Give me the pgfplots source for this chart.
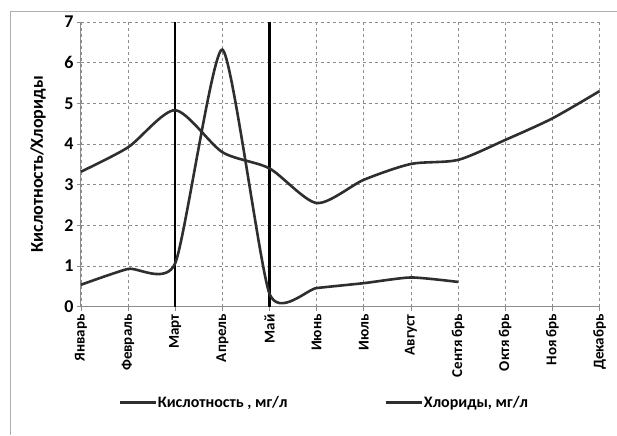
\documentclass[border=0pt]{standalone}
\usepackage{fontspec}
\setmainfont{Carlito}
\usepackage{pgfplots}
\pgfplotsset{compat=1.18}
\definecolor{curve}{HTML}{2E2E2E}
\definecolor{axgray}{HTML}{8C8C8C}
\begin{document}
\begin{tikzpicture}
\begin{axis}[
  at={(0,0)}, anchor=south west,
  scale only axis, width=519pt, height=285pt,
  xmin=0, xmax=11, ymin=0, ymax=7,
  xtick={0,...,11},
  xticklabels={Январь,Февраль,Март,Апрель,Май,Июнь,Июль,Август,Сентя\,брь,Октя\,брь,Ноя\,брь,Декабрь},
  x tick label style={rotate=90, anchor=east, font=\bfseries\fontsize{15}{15}\selectfont},
  ytick={0,...,7},
  y tick label style={font=\bfseries\fontsize{18}{18}\selectfont},
  /pgf/number format/assume math mode=true,
  ylabel={Кислотность/Хлориды},
  ylabel style={font=\bfseries\fontsize{18}{18}\selectfont, at={(axis description cs:-0.083,0.5)}, anchor=center},
  axis lines=left,
  axis line style={-, axgray, line width=1pt},
  tick align=outside,
  major tick length=4pt,
  tick style={axgray, line width=0.8pt},
  grid=major,
  major grid style={axgray, line width=0.8pt, dash pattern=on 3pt off 3pt},
  clip=false,
  legend columns=2,
  legend style={at={(0.468,-0.337)}, anchor=center, draw=none, fill=none,
    font=\bfseries\fontsize{16}{16}\selectfont, inner sep=0pt,
    /tikz/every even column/.append style={column sep=96pt},
    nodes={inner sep=1pt}},
  legend image code/.code={\draw[#1] (0pt,0pt) -- (36pt,0pt);},
]
% vertical markers
\addplot[black, line width=2.2pt, forget plot] coordinates {(2,0) (2,7)};
\addplot[black, line width=2.2pt, forget plot] coordinates {(4,0) (4,7)};
% series
\addplot[curve, line width=2.6pt, smooth, tension=0.36] coordinates {
  (0,0.54) (1,0.93) (2,1.07) (3,6.32) (4,0.32) (5,0.46) (6,0.58) (7,0.72) (8,0.61)};
\addlegendentry{Кислотность , мг/л}
\addplot[curve, line width=2.6pt, smooth, tension=0.45] coordinates {
  (0,3.32) (1,3.92) (2,4.83) (3,3.8) (4,3.4) (5,2.55) (6,3.12) (7,3.51) (8,3.61) (9,4.1) (10,4.63) (11,5.3)};
\addlegendentry{Хлориды, мг/л}
\end{axis}
% outer frame (top and left edges visible)
\draw[axgray!70, line width=1pt] (-70pt,-128pt) -- (-70pt,295pt) -- (536pt,295pt);
\path (-81pt,-128pt) rectangle (536pt,307pt);
\end{tikzpicture}
\end{document}
